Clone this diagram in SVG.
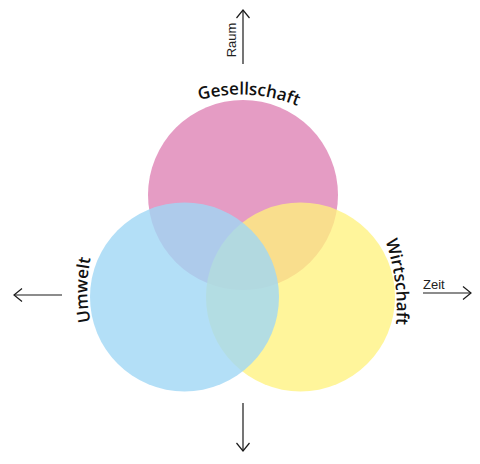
<svg xmlns="http://www.w3.org/2000/svg" width="480" height="464" viewBox="0 0 480 464">
  <style>
    .label { font-family: "Open Sans", "DejaVu Sans", sans-serif; font-weight: 600; font-size: 17px; fill: #111111; }
    .axis-label { font-family: "Liberation Sans", Arial, sans-serif; font-size: 13px; fill: #222222; }
    .axis { stroke: #1a1a1a; stroke-width: 1.2; fill: none; }
  </style>
  <defs>
    <marker id="arrow" markerUnits="userSpaceOnUse" markerWidth="10" markerHeight="14" refX="8" refY="6.5" orient="auto" overflow="visible">
      <path d="M0,0 L8,6.5 L0,13" fill="none" stroke="#1a1a1a" stroke-width="1.2"/>
    </marker>
    <path id="arc-gesellschaft" d="M90.26,235.6 A150,150 0 0 1 389.74,253.4"/>
    <path id="arc-wirtschaft" d="M172.63,108.58 A200,200 0 0 1 222.77,505.42"/>
    <path id="arc-umwelt" d="M237.3,440 A150,150 0 0 1 237.3,140"/>
  </defs>

  <g id="node-gesellschaft">
    <circle cx="243" cy="195" r="95" fill="#e59cc4"/>
    <text class="label"><textPath href="#arc-gesellschaft" startOffset="50%" text-anchor="middle">Gesellschaft</textPath></text>
  </g>

  <g id="node-wirtschaft">
    <circle cx="300.5" cy="297" r="94.5" fill="#fff27d" fill-opacity="0.77"/>
    <text class="label"><textPath href="#arc-wirtschaft" startOffset="50%" text-anchor="middle">Wirtschaft</textPath></text>
  </g>

  <g id="node-umwelt">
    <circle cx="184.5" cy="297" r="94.5" fill="#a0d7f5" fill-opacity="0.8"/>
    <text class="label"><textPath href="#arc-umwelt" startOffset="50%" text-anchor="middle">Umwelt</textPath></text>
  </g>

  <g id="connectors">
    <line class="axis" x1="243" y1="64" x2="243" y2="10" marker-end="url(#arrow)"/>
    <line class="axis" x1="243" y1="403" x2="243" y2="451" marker-end="url(#arrow)"/>
    <line class="axis" x1="62" y1="295" x2="14" y2="295" marker-end="url(#arrow)"/>
    <line class="axis" x1="423" y1="293" x2="471" y2="293" marker-end="url(#arrow)"/>
    <text class="axis-label" transform="translate(236,40) rotate(-90)" text-anchor="middle">Raum</text>
    <text class="axis-label" x="423" y="289">Zeit</text>
  </g>
</svg>
